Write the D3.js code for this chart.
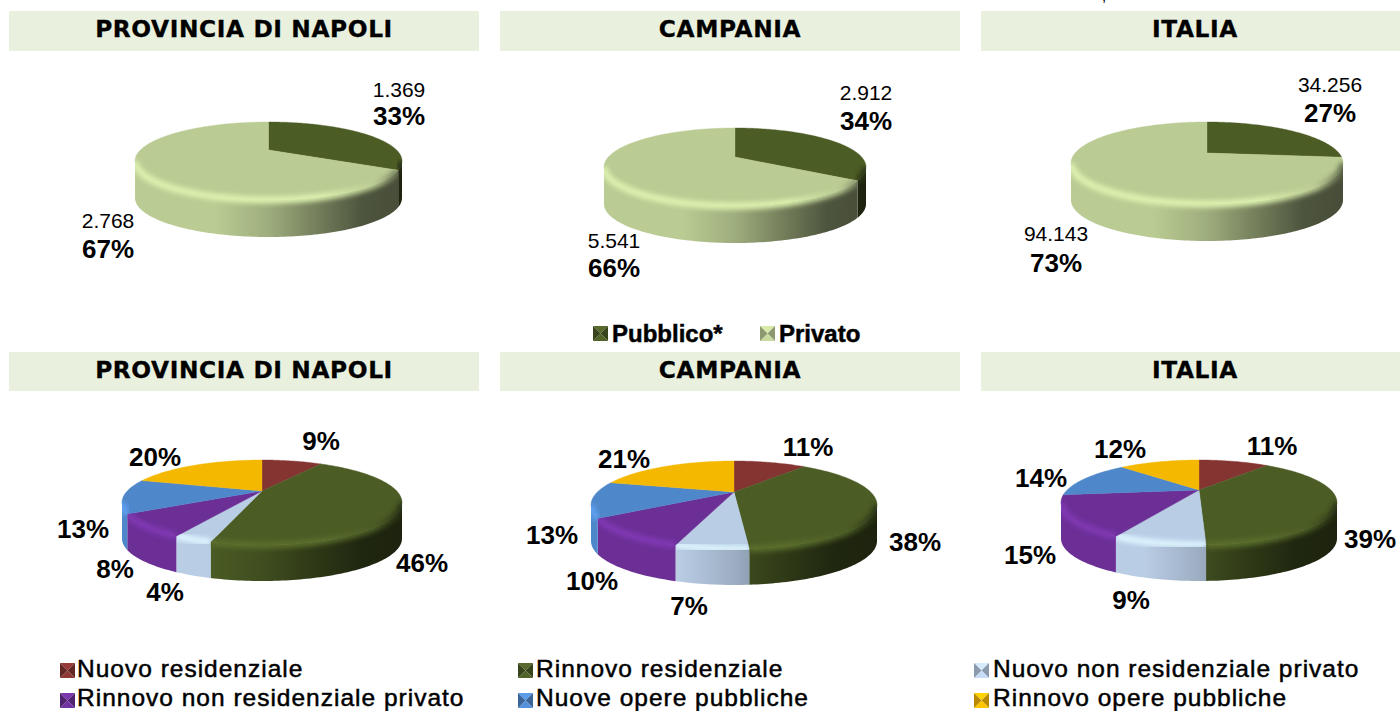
<!DOCTYPE html>
<html>
<head>
<meta charset="utf-8">
<script src="https://cdn.jsdelivr.net/npm/d3@7"></script>
<style>
  html, body { margin: 0; padding: 0; background: #fff; overflow: hidden; }
  text { font-family: "Liberation Sans", Arial, sans-serif; fill: #000; }
</style>
</head>
<body>
<div id="chart"></div>
<script>
// Data
const areas = ['PROVINCIA DI NAPOLI', 'CAMPANIA', 'ITALIA'];
const ownerNames = ['Pubblico*', 'Privato'];
const ownerColors = ['#4b5c25', '#bacb93'];
const ownerValues = [[1369, 2768], [2912, 5541], [34256, 94143]];
const ownerValueLabels = [['1.369', '2.768'], ['2.912', '5.541'], ['34.256', '94.143']];
const ownerPercents = [[33, 67], [34, 66], [27, 73]];

const workNames = ['Nuovo residenziale', 'Rinnovo residenziale', 'Nuovo non residenziale privato',
  'Rinnovo non residenziale privato', 'Nuove opere pubbliche', 'Rinnovo opere pubbliche'];
const workColors = ['#843431', '#4b5c25', '#b9cde5', '#6b2f96', '#4f87cb', '#f4b800'];
// Printed labels, and the slightly finer shares the slices were measured at
const workPercents = [[9, 46, 4, 8, 13, 20], [11, 38, 7, 10, 13, 21], [11, 39, 9, 15, 14, 12]];
const workShares = [
  [9.0, 45.5, 3.5, 8.5, 13.0, 20.4],
  [10.8, 37.7, 6.2, 10.7, 13.2, 20.9],
  [10.9, 38.4, 8.3, 15.4, 14.4, 12.4]
];

// Layout
const width = 1400, height = 711;
const bands = [{ x: 9, w: 470, tx: 244 }, { x: 500, w: 460, tx: 730 }, { x: 981, w: 419, tx: 1195 }];
const rowBands = [{ y: 11, h: 40 }, { y: 352, h: 39 }];
// cx, apex y, top of the ellipse, bottom of the ellipse, half width, wall depth
const ownerPies = [
  { cx: 268.5, ay: 150, top: 122, bottom: 200, hw: 133.5, depth: 37 },
  { cx: 735, ay: 157, top: 128, bottom: 206, hw: 131, depth: 37 },
  { cx: 1207, ay: 153, top: 122, bottom: 204, hw: 136, depth: 37 }
];
const workPies = [
  { cx: 262, ay: 491, top: 460, bottom: 545, hw: 140, depth: 36 },
  { cx: 734, ay: 492, top: 461, bottom: 549, hw: 143, depth: 36 },
  { cx: 1199, ay: 490, top: 460, bottom: 545, hw: 138, depth: 36 }
];
const ownerLabelPos = [
  [{ x: 399, y: 97, py: 125 }, { x: 108, y: 228, py: 258 }],
  [{ x: 866, y: 100, py: 130 }, { x: 614, y: 248, py: 277 }],
  [{ x: 1330, y: 92, py: 122 }, { x: 1056, y: 241, py: 272 }]
];
const workLabelPos = [
  [[321, 450], [422, 572], [165, 601], [115, 578], [83, 538], [155, 466]],
  [[808, 456], [915, 551], [689, 615], [592, 590], [552, 544], [624, 468]],
  [[1272, 455], [1370, 548], [1131, 609], [1030, 564], [1041, 487], [1120, 458]]
];

const svg = d3.select('#chart').append('svg')
  .attr('width', width)
  .attr('height', height);
const defs = svg.append('defs');

defs.append('filter').attr('id', 'soft')
  .attr('x', '-20%').attr('y', '-20%').attr('width', '140%').attr('height', '140%')
  .append('feGaussianBlur').attr('stdDeviation', 2.4);

// Title bands
rowBands.forEach(row => {
  bands.forEach((b, i) => {
    svg.append('rect')
      .attr('x', b.x).attr('y', row.y)
      .attr('width', b.w).attr('height', row.h)
      .attr('fill', '#e9f0dd');
    svg.append('text')
      .attr('x', b.tx).attr('y', row.y + 26)
      .attr('text-anchor', 'middle')
      .style('font-family', '"DejaVu Sans", Verdana, sans-serif')
      .attr('font-weight', 'bold')
      .attr('font-size', 23.3)
      .attr('letter-spacing', 0.6)
      .attr('stroke', '#000').attr('stroke-width', 0.3)
      .text(areas[i]);
  });
});

// Leftover piece of the text cut off above the picture
svg.append('text').attr('x', 1102).attr('y', 1).attr('font-size', 15).text(',');

const pie = d3.pie().sort(null);
const line = d3.line();
let uid = 0;

// Wall gradient: same direction on every pie, left lit and right in shade
const shadeStops = [[0, 1], [0.3, 1], [0.5, 0.85], [0.7, 0.6], [0.85, 0.42], [1, 0.38]];

function shade(color, f) {
  const c = d3.rgb(color);
  return d3.rgb(c.r * f, c.g * f, c.b * f).formatHex();
}

function drawPie(values, colors, p) {
  // Perspective: the far half of the disc is squeezed more than the near half
  const up = p.ay - p.top, down = p.bottom - p.ay;
  const k = (down - up) / (down + up);
  const s = up * (1 + k);
  const r = p.hw * Math.sqrt(1 - k * k);
  const project = a => {
    const X = Math.sin(a), Y = -Math.cos(a), w = 1 - k * Y;
    return [p.cx + r * X / w, p.ay + s * Y / w];
  };
  const arcPoints = (a0, a1) => {
    const n = Math.max(2, Math.ceil((a1 - a0) / 0.02));
    return d3.range(n + 1).map(i => project(a0 + (a1 - a0) * i / n));
  };
  // Angles where the rim turns from the far side to the near side
  const nearStart = Math.acos(-k), nearEnd = 2 * Math.PI - nearStart;

  const arcs = pie(values);
  const g = svg.append('g');
  const walls = g.append('g'), tops = g.append('g'), bevels = g.append('g');

  arcs.forEach((d, i) => {
    const id = 'slice' + (uid++);
    const color = colors[i];
    const rim = arcPoints(d.startAngle, d.endAngle);
    const topPath = line([[p.cx, p.ay]].concat(rim)) + 'Z';
    tops.append('path').attr('d', topPath).attr('fill', color)
      .attr('stroke', color).attr('stroke-width', 0.4);

    const a0 = Math.max(d.startAngle, nearStart), a1 = Math.min(d.endAngle, nearEnd);
    if (a1 <= a0) return;

    const nearRim = arcPoints(a0, a1);
    const lower = nearRim.map(q => [q[0], q[1] + p.depth]).reverse();
    const wallPath = line(nearRim.concat(lower)) + 'Z';

    const grad = defs.append('linearGradient').attr('id', id + 'w')
      .attr('gradientUnits', 'userSpaceOnUse')
      .attr('x1', p.cx - p.hw).attr('x2', p.cx + p.hw)
      .attr('y1', 0).attr('y2', 0);
    shadeStops.forEach(st => {
      grad.append('stop').attr('offset', st[0]).attr('stop-color', shade(color, st[1]));
    });
    walls.append('path').attr('d', wallPath).attr('fill', `url(#${id}w)`);

    const glow = d3.color(color).brighter(0.5).formatHex();
    const gradB = defs.append('linearGradient').attr('id', id + 'b')
      .attr('gradientUnits', 'userSpaceOnUse')
      .attr('x1', p.cx - p.hw).attr('x2', p.cx + p.hw)
      .attr('y1', 0).attr('y2', 0);
    [[0, glow], [0.7, glow], [0.9, color], [1, shade(color, 0.5)]].forEach(st => {
      gradB.append('stop').attr('offset', st[0]).attr('stop-color', st[1]);
    });

    // Rounded edge, only on the side facing the viewer
    defs.append('clipPath').attr('id', id + 'c')
      .append('path').attr('d', wallPath + topPath);
    bevels.append('g').attr('clip-path', `url(#${id}c)`)
      .append('path')
      .attr('d', line(nearRim))
      .attr('fill', 'none')
      .attr('stroke', `url(#${id}b)`)
      .attr('stroke-width', 7)
      .attr('filter', 'url(#soft)');
  });
}

ownerPies.forEach((p, i) => drawPie(ownerValues[i], ownerColors, p));
workPies.forEach((p, i) => drawPie(workShares[i], workColors, p));

// Labels
ownerLabelPos.forEach((row, i) => {
  row.forEach((pos, j) => {
    svg.append('text').attr('x', pos.x).attr('y', pos.y)
      .attr('text-anchor', 'middle').attr('font-size', 21)
      .text(ownerValueLabels[i][j]);
    svg.append('text').attr('x', pos.x).attr('y', pos.py)
      .attr('text-anchor', 'middle').attr('font-size', 26).attr('font-weight', 'bold')
      .text(ownerPercents[i][j] + '%');
  });
});
workLabelPos.forEach((row, i) => {
  row.forEach((pos, j) => {
    svg.append('text').attr('x', pos[0]).attr('y', pos[1])
      .attr('text-anchor', 'middle').attr('font-size', 26).attr('font-weight', 'bold')
      .text(workPercents[i][j] + '%');
  });
});

// Legend marker: small square with four bevelled sides
function legendItem(x, y, label, color, textX, textY, bold) {
  const m = 15, c = [x + m / 2, y - m / 2];
  const a = [x, y - m], b = [x + m, y - m], d = [x + m, y], e = [x, y];
  const faces = [
    [a, b, c, d3.color(color).brighter(0.4).formatHex()],
    [b, d, c, shade(color, 0.75)],
    [d, e, c, d3.color(color).brighter(0.2).formatHex()],
    [e, a, c, shade(color, 0.75)]
  ];
  faces.forEach(f => {
    svg.append('path').attr('d', line(f.slice(0, 3)) + 'Z').attr('fill', f[3]);
  });
  svg.append('text').attr('x', textX).attr('y', textY)
    .attr('font-size', bold ? 24 : 24.5)
    .attr('font-weight', bold ? 'bold' : 'normal')
    .attr('stroke', '#000').attr('stroke-width', 0.5)
    .attr('letter-spacing', bold ? 0 : 1)
    .text(label);
}

const ownerLegendX = [[593, 612], [760, 779]];
ownerNames.forEach((name, i) => {
  legendItem(ownerLegendX[i][0], 341, name, ownerColors[i], ownerLegendX[i][1], 342, true);
});

const workLegendX = [[60, 77], [518, 536], [974, 993]];
const workLegendY = [678, 708];
const workTextY = [677, 706];
workNames.forEach((name, i) => {
  const row = Math.floor(i / 3), col = workLegendX[i % 3];
  legendItem(col[0], workLegendY[row], name, workColors[i], col[1], workTextY[row], false);
});
</script>
</body>
</html>
